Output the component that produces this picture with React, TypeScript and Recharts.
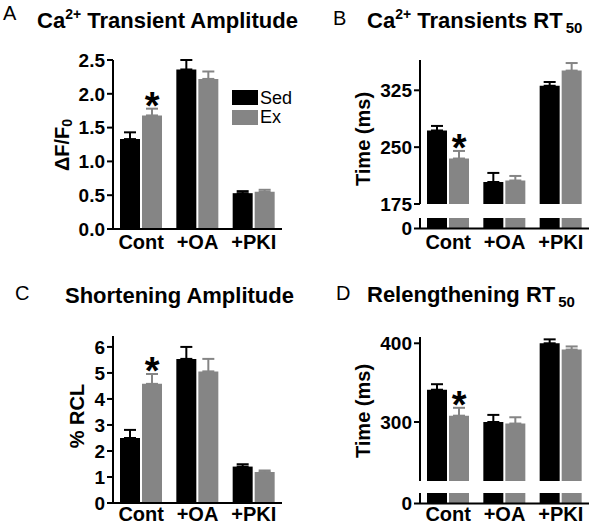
import React from 'react';
import { ComposedChart, Bar, XAxis, YAxis, ErrorBar, ReferenceDot, Legend } from 'recharts';

// ---------- data ----------
const categories = ['Cont', '+OA', '+PKI'];
const seriesNames = ['Sed', 'Ex'];

// A: Ca2+ transient amplitude (ΔF/F0)
const caAmpSed = [1.33, 2.36, 0.53];
const caAmpSedErr = [0.1, 0.14, 0.03];
const caAmpEx = [1.68, 2.22, 0.55];
const caAmpExErr = [0.1, 0.11, 0.03];
const caAmpTicks = [0, 0.5, 1.0, 1.5, 2.0, 2.5];

// B: Ca2+ transients RT50 (ms)
const caRtSed = [272, 204, 331];
const caRtSedErr = [6, 12, 5];
const caRtEx = [235, 206, 351];
const caRtExErr = [10, 6, 10];
const caRtTicks = [175, 250, 325];

// C: shortening amplitude (% RCL)
const shortSed = [2.5, 5.54, 1.4];
const shortSedErr = [0.31, 0.46, 0.09];
const shortEx = [4.58, 5.06, 1.19];
const shortExErr = [0.38, 0.48, 0.06];
const shortTicks = [0, 1, 2, 3, 4, 5, 6];

// D: relengthening RT50 (ms)
const relenSed = [341, 300, 400];
const relenSedErr = [7, 9, 5];
const relenEx = [308, 298, 392];
const relenExErr = [10, 8, 4];
const relenTicks = [300, 400];

// ---------- style ----------
const FONT = '"Liberation Sans", Arial, Helvetica, sans-serif';
const SED = '#000000';
const EX = '#858585';

const makeData = (sed: number[], sedErr: number[], ex: number[], exErr: number[]) =>
  categories.map((cat, i) => ({
    cat,
    sed: sed[i],
    sedErr: [0, sedErr[i]],
    ex: ex[i],
    exErr: [0, exErr[i]],
  }));

const dataA = makeData(caAmpSed, caAmpSedErr, caAmpEx, caAmpExErr);
const dataB = makeData(caRtSed, caRtSedErr, caRtEx, caRtExErr);
const dataC = makeData(shortSed, shortSedErr, shortEx, shortExErr);
const dataD = makeData(relenSed, relenSedErr, relenEx, relenExErr);

const axisLine = { stroke: '#000', strokeWidth: 2 };
const yTick = { fill: '#000', fontSize: 19, fontWeight: 700, fontFamily: FONT };
const xTick = { fill: '#000', fontSize: 20, fontWeight: 700, fontFamily: FONT };

const Star = (props: any) => (
  <text
    x={props.cx + 11}
    y={props.cy + 10}
    textAnchor="middle"
    fontSize={38}
    fontWeight={700}
    fontFamily={FONT}
    fill="#000"
  >
    *
  </text>
);

const LegendContent = (props: any) => {
  const payload = [...(props.payload || [])].sort(
    (a: any, b: any) => seriesNames.indexOf(a.value) - seriesNames.indexOf(b.value)
  );
  return (
    <div style={{ fontFamily: FONT, fontSize: 18, color: '#000' }}>
      {payload.map((p: any) => (
        <div key={p.value} style={{ display: 'flex', alignItems: 'center', height: 19.5 }}>
          <span
            style={{ display: 'inline-block', width: 26, height: 15, background: p.color, marginRight: 2 }}
          />
          <span style={{ lineHeight: '18px' }}>{p.value}</span>
        </div>
      ))}
    </div>
  );
};

const RotLabel = ({ cx, cy, children }: any) => (
  <text
    x={cx}
    y={cy}
    transform={`rotate(-90, ${cx}, ${cy})`}
    textAnchor="middle"
    dominantBaseline="central"
    fontSize={20}
    fontWeight={700}
    fontFamily={FONT}
    fill="#000"
  >
    {children}
  </text>
);

const bars = (withErr: boolean) => [
  <Bar key="sed" dataKey="sed" name={seriesNames[0]} fill={SED} barSize={20} isAnimationActive={false}>
    {withErr && <ErrorBar dataKey="sedErr" direction="y" width={6} stroke={SED} strokeWidth={2} />}
  </Bar>,
  <Bar key="ex" dataKey="ex" name={seriesNames[1]} fill={EX} barSize={20} isAnimationActive={false}>
    {withErr && <ErrorBar dataKey="exErr" direction="y" width={6} stroke={EX} strokeWidth={2} />}
  </Bar>,
];

const yAxisCommon = {
  axisLine,
  tickLine: axisLine,
  tickSize: 6,
  tickMargin: 2,
  tick: yTick,
  interval: 0 as const,
};

const xAxisCommon = {
  dataKey: 'cat',
  axisLine,
  tickLine: false,
  tickSize: 0,
  tick: xTick,
  interval: 0 as const,
};

export default function App() {
  return (
    <div
      style={{
        position: 'absolute',
        left: 0,
        top: 0,
        width: 600,
        height: 525,
        background: '#fff',
        fontFamily: FONT,
      }}
    >
      {/* Panel A */}
      <div style={{ position: 'absolute', left: 0, top: 0 }}>
        <ComposedChart width={300} height={260} data={dataA} barGap={2} margin={{ top: 60, right: 18, bottom: 0, left: 0 }}>
          <XAxis {...xAxisCommon} height={31} tickMargin={6} />
          <YAxis
            {...yAxisCommon}
            width={113}
            domain={[0, 2.5]}
            ticks={caAmpTicks}
            tickFormatter={(v: number) => v.toFixed(1)}
            label={{ content: () => <RotLabel cx={62} cy={145}>ΔF/F<tspan dy={5} fontSize={14}>0</tspan></RotLabel> }}
          />
          {bars(true)}
          <ReferenceDot x={categories[0]} y={caAmpEx[0] + caAmpExErr[0]} r={0} shape={Star} ifOverflow="visible" />
          <Legend
            layout="vertical"
            align="center"
            verticalAlign="middle"
            content={LegendContent}
            wrapperStyle={{ left: 232, top: 88, width: 70, height: 40 }}
          />
        </ComposedChart>
      </div>

      {/* Panel B - upper segment */}
      <div style={{ position: 'absolute', left: 300, top: 0 }}>
        <ComposedChart width={300} height={260} data={dataB} barGap={2} margin={{ top: 60, right: 11, bottom: 56, left: 0 }}>
          <XAxis dataKey="cat" hide />
          <YAxis
            {...yAxisCommon}
            width={120}
            domain={[175, 365]}
            ticks={caRtTicks}
            allowDataOverflow
            label={{ content: () => <RotLabel cx={63} cy={139}>Time (ms)</RotLabel> }}
          />
          {bars(true)}
          <ReferenceDot x={categories[0]} y={caRtEx[0] + caRtExErr[0]} r={0} shape={Star} ifOverflow="visible" />
        </ComposedChart>
      </div>
      {/* Panel B - lower segment */}
      <div style={{ position: 'absolute', left: 300, top: 0 }}>
        <ComposedChart width={300} height={260} data={dataB} barGap={2} margin={{ top: 218, right: 11, bottom: 0, left: 0 }}>
          <XAxis {...xAxisCommon} height={31.5} tickMargin={6} />
          <YAxis {...yAxisCommon} width={120} domain={[0, 20]} ticks={[0]} allowDataOverflow />
          {bars(false)}
        </ComposedChart>
      </div>

      {/* Panel C */}
      <div style={{ position: 'absolute', left: 0, top: 260 }}>
        <ComposedChart width={300} height={265} data={dataC} barGap={2} margin={{ top: 76, right: 18, bottom: 0, left: 0 }}>
          <XAxis {...xAxisCommon} height={22} tickMargin={4} />
          <YAxis
            {...yAxisCommon}
            width={113}
            domain={[0, 6.42]}
            ticks={shortTicks}
            label={{ content: () => <RotLabel cx={77} cy={156}>% RCL</RotLabel> }}
          />
          {bars(true)}
          <ReferenceDot x={categories[0]} y={shortEx[0] + shortExErr[0]} r={0} shape={Star} ifOverflow="visible" />
        </ComposedChart>
      </div>

      {/* Panel D - upper segment */}
      <div style={{ position: 'absolute', left: 300, top: 260 }}>
        <ComposedChart width={300} height={265} data={dataD} barGap={2} margin={{ top: 77, right: 11, bottom: 44, left: 0 }}>
          <XAxis dataKey="cat" hide />
          <YAxis
            {...yAxisCommon}
            width={120}
            domain={[225, 408]}
            ticks={relenTicks}
            allowDataOverflow
            label={{ content: () => <RotLabel cx={63} cy={151}>Time (ms)</RotLabel> }}
          />
          {bars(true)}
          <ReferenceDot x={categories[0]} y={relenEx[0] + relenExErr[0]} r={0} shape={Star} ifOverflow="visible" />
        </ComposedChart>
      </div>
      {/* Panel D - lower segment */}
      <div style={{ position: 'absolute', left: 300, top: 260 }}>
        <ComposedChart width={300} height={265} data={dataD} barGap={2} margin={{ top: 233, right: 11, bottom: 0, left: 0 }}>
          <XAxis {...xAxisCommon} height={21.5} tickMargin={3} />
          <YAxis {...yAxisCommon} width={120} domain={[0, 20]} ticks={[0]} allowDataOverflow />
          {bars(false)}
        </ComposedChart>
      </div>

      {/* Panel titles */}
      <svg
        width={600}
        height={525}
        style={{ position: 'absolute', left: 0, top: 0, pointerEvents: 'none' }}
        fontFamily={FONT}
        fill="#000"
      >
        <text x={3} y={20} fontSize={20}>A</text>
        <text x={37} y={28} fontSize={22} fontWeight={700}>
          Ca<tspan dy={-9} fontSize={14}>2+</tspan>
          <tspan dy={9}> Transient Amplitude</tspan>
        </text>

        <text x={333} y={25} fontSize={20}>B</text>
        <text x={367} y={28} fontSize={22} fontWeight={700}>
          Ca<tspan dy={-9} fontSize={14}>2+</tspan>
          <tspan dy={9}> Transients RT</tspan>
          <tspan dx={3} dy={5} fontSize={15}>50</tspan>
        </text>

        <text x={15} y={300} fontSize={20}>C</text>
        <text x={65} y={303} fontSize={22} fontWeight={700}>Shortening Amplitude</text>

        <text x={336} y={300} fontSize={20}>D</text>
        <text x={367} y={302} fontSize={22} fontWeight={700}>
          Relengthening RT<tspan dx={3} dy={5} fontSize={15}>50</tspan>
        </text>
      </svg>
    </div>
  );
}
